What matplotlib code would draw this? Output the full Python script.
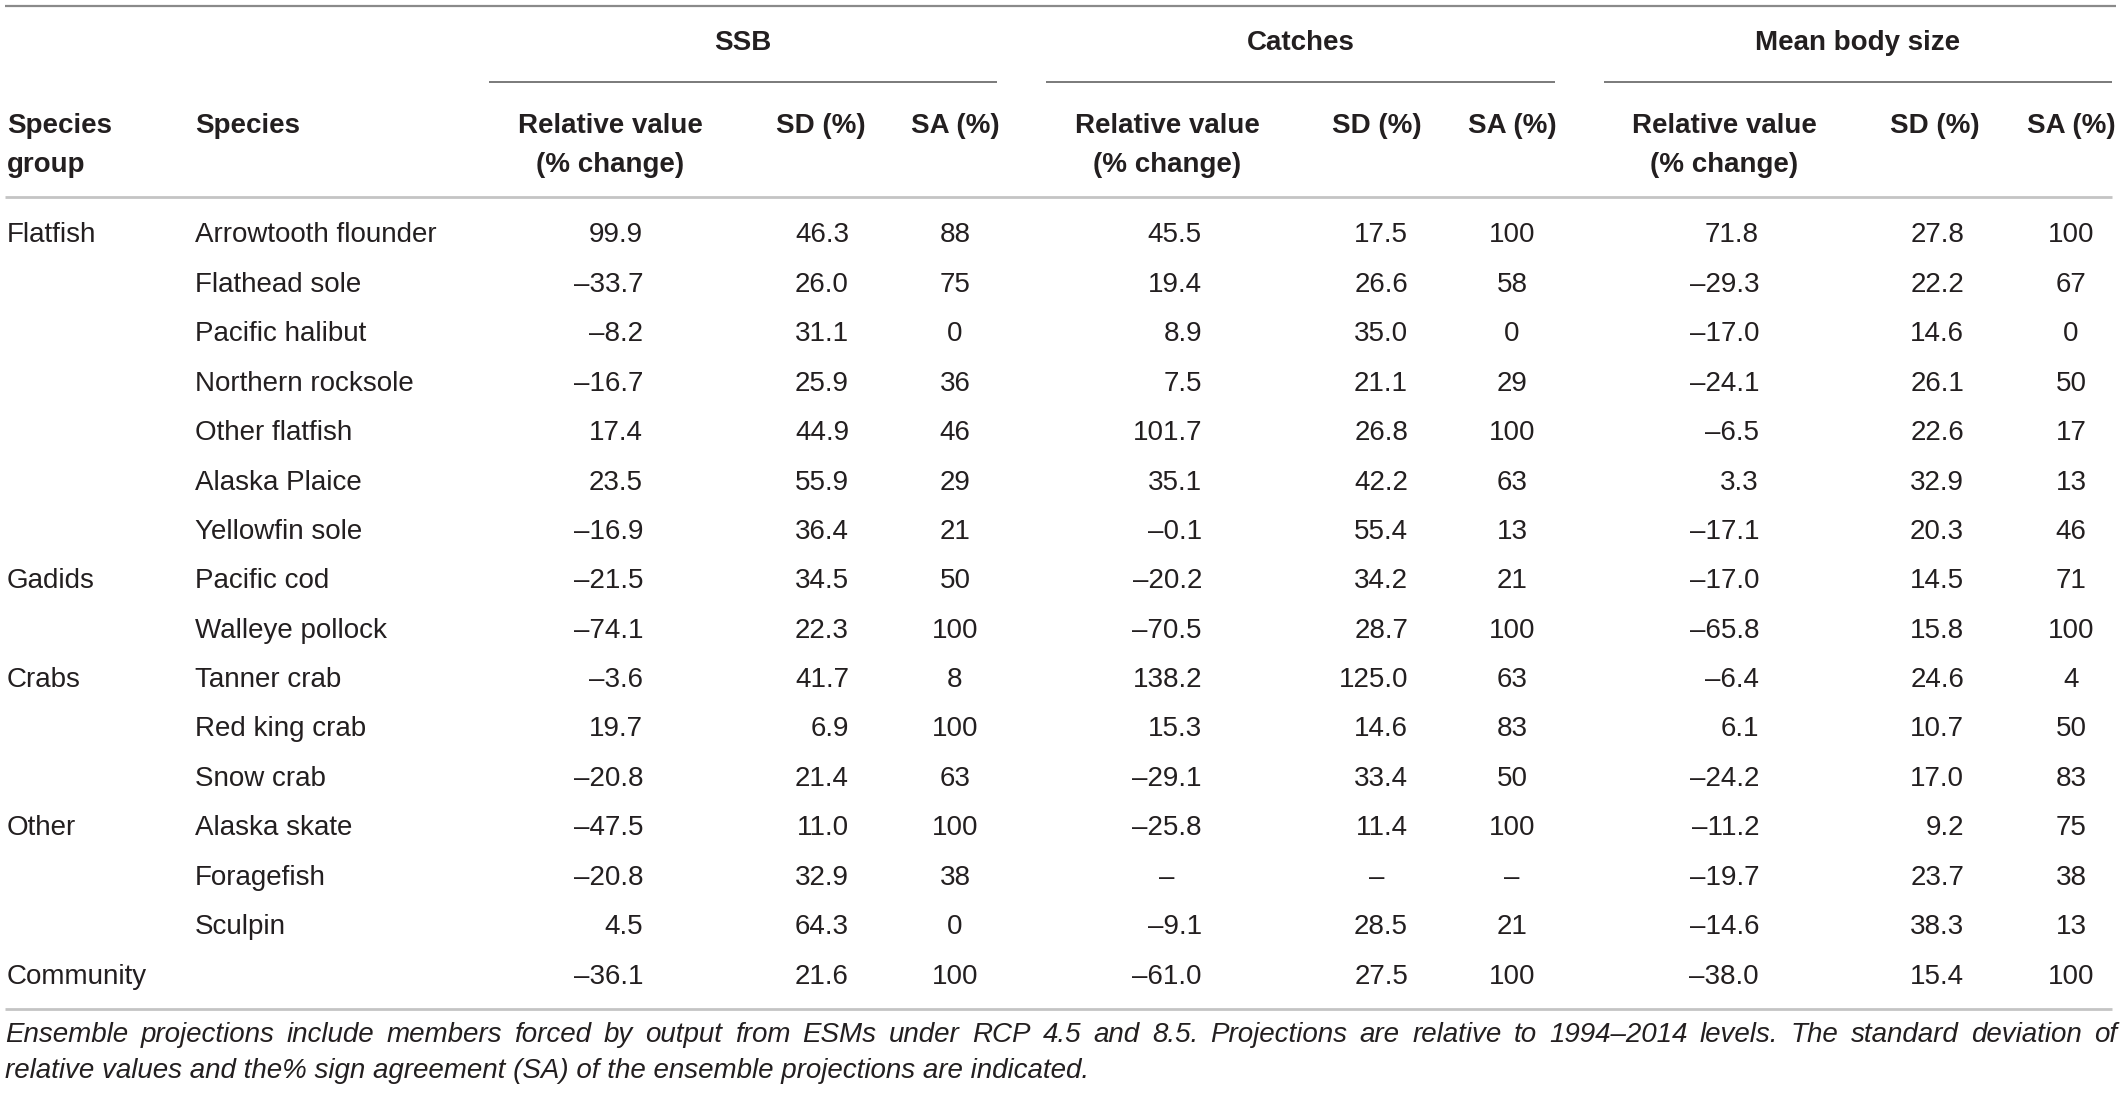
import matplotlib
matplotlib.use("Agg")
import matplotlib.pyplot as plt

# ---------------- data ----------------
groups = ["Flatfish", "", "", "", "", "", "", "Gadids", "", "Crabs", "", "", "Other", "", "", "Community"]
species = ["Arrowtooth flounder", "Flathead sole", "Pacific halibut", "Northern rocksole",
           "Other flatfish", "Alaska Plaice", "Yellowfin sole", "Pacific cod", "Walleye pollock",
           "Tanner crab", "Red king crab", "Snow crab", "Alaska skate", "Foragefish", "Sculpin", ""]

ssb_rel = ["99.9", "–33.7", "–8.2", "–16.7", "17.4", "23.5", "–16.9", "–21.5", "–74.1",
           "–3.6", "19.7", "–20.8", "–47.5", "–20.8", "4.5", "–36.1"]
ssb_sd = ["46.3", "26.0", "31.1", "25.9", "44.9", "55.9", "36.4", "34.5", "22.3",
          "41.7", "6.9", "21.4", "11.0", "32.9", "64.3", "21.6"]
ssb_sa = ["88", "75", "0", "36", "46", "29", "21", "50", "100", "8", "100", "63", "100", "38", "0", "100"]

catch_rel = ["45.5", "19.4", "8.9", "7.5", "101.7", "35.1", "–0.1", "–20.2", "–70.5",
             "138.2", "15.3", "–29.1", "–25.8", "–", "–9.1", "–61.0"]
catch_sd = ["17.5", "26.6", "35.0", "21.1", "26.8", "42.2", "55.4", "34.2", "28.7",
            "125.0", "14.6", "33.4", "11.4", "–", "28.5", "27.5"]
catch_sa = ["100", "58", "0", "29", "100", "63", "13", "21", "100", "63", "83", "50", "100", "–", "21", "100"]

size_rel = ["71.8", "–29.3", "–17.0", "–24.1", "–6.5", "3.3", "–17.1", "–17.0", "–65.8",
            "–6.4", "6.1", "–24.2", "–11.2", "–19.7", "–14.6", "–38.0"]
size_sd = ["27.8", "22.2", "14.6", "26.1", "22.6", "32.9", "20.3", "14.5", "15.8",
           "24.6", "10.7", "17.0", "9.2", "23.7", "38.3", "15.4"]
size_sa = ["100", "67", "0", "50", "17", "13", "46", "71", "100", "4", "50", "83", "75", "38", "13", "100"]

group_headers = ["SSB", "Catches", "Mean body size"]
col_headers = ["Relative value\n(% change)", "SD (%)", "SA (%)"]
caption_lines = [
    "Ensemble projections include members forced by output from ESMs under RCP 4.5 and 8.5. "
    "Projections are relative to 1994–2014 levels. The standard deviation of",
    "relative values and the% sign agreement (SA) of the ensemble projections are indicated.",
]

# ---------------- layout ----------------
W, H = 2121, 1096
DPI = 100
fig = plt.figure(figsize=(W / DPI, H / DPI), dpi=DPI)
ax = fig.add_axes([0, 0, 1, 1])
ax.set_xlim(0, W)
ax.set_ylim(H, 0)
ax.axis("off")

FONT = "Liberation Sans"
TXT = "#231f20"
FS = 20.0          # body size (pt)
FS_CAP = 20.0      # caption size

row_y0 = 233.0
row_dy = 49.4
cap_off = 9.5      # baseline offset from row center

x_group = 7
x_species = 195
# (header center, value anchor, value alignment) per block
blocks = [
    [(610, 643, "right"), (821, 849, "right"), (955, 955, "center")],
    [(1167, 1202, "right"), (1377, 1408, "right"), (1512, 1512, "center")],
    [(1724, 1759, "right"), (1935, 1964, "right"), (2071, 2071, "center")],
]
block_spans = [(489, 997), (1046, 1555), (1604, 2112)]
block_data = [(ssb_rel, ssb_sd, ssb_sa), (catch_rel, catch_sd, catch_sa), (size_rel, size_sd, size_sa)]

# rules
ax.plot([5, 2116], [6, 6], color="#8a8a8a", lw=1.6, solid_capstyle="butt")
ax.plot([5, 2112], [197, 197], color="#c4c4c4", lw=2.0, solid_capstyle="butt")
ax.plot([5, 2112], [1009, 1009], color="#c4c4c4", lw=2.0, solid_capstyle="butt")
for (a, b) in block_spans:
    ax.plot([a, b], [82, 82], color="#707070", lw=1.3, solid_capstyle="butt")

# group headers
for (a, b), name in zip(block_spans, group_headers):
    ax.text((a + b) / 2, 50, name, ha="center", va="baseline", fontsize=FS,
            fontweight="bold", family=FONT, color=TXT)

# column headers
hb1, hb2 = 133, 172
ax.text(x_group, hb1, "Species", ha="left", va="baseline", fontsize=FS, fontweight="bold", family=FONT, color=TXT)
ax.text(x_group, hb2, "group", ha="left", va="baseline", fontsize=FS, fontweight="bold", family=FONT, color=TXT)
ax.text(x_species, hb1, "Species", ha="left", va="baseline", fontsize=FS, fontweight="bold", family=FONT, color=TXT)
for blk in blocks:
    for (hc, _, _), h in zip(blk, col_headers):
        lines = h.split("\n")
        for k, ln in enumerate(lines):
            ax.text(hc, hb1 if k == 0 else hb2, ln, ha="center", va="baseline", fontsize=FS,
                    fontweight="bold", family=FONT, color=TXT)

# body rows
for i in range(len(species)):
    yb = row_y0 + i * row_dy + cap_off
    if groups[i]:
        ax.text(x_group, yb, groups[i], ha="left", va="baseline", fontsize=FS, family=FONT, color=TXT)
    if species[i]:
        ax.text(x_species, yb, species[i], ha="left", va="baseline", fontsize=FS, family=FONT, color=TXT)
    for blk, data in zip(blocks, block_data):
        for (hc, xa, al), col in zip(blk, data):
            v = col[i]
            if v == "–":
                ax.text(hc, yb, v, ha="center", va="baseline", fontsize=FS, family=FONT, color=TXT)
            else:
                ax.text(xa, yb, v, ha=al, va="baseline", fontsize=FS, family=FONT, color=TXT)

# caption (first line justified)
cap_base = [1042, 1078]
x_left, x_right = 5, 2117
fig.canvas.draw()
renderer = fig.canvas.get_renderer()

def word_width(w, fs):
    t = ax.text(0, 0, w, fontsize=fs, style="italic", family=FONT)
    bb = t.get_window_extent(renderer=renderer)
    t.remove()
    return bb.width  # pixels == data units (1:1 mapping)

words = caption_lines[0].split(" ")
space_w = word_width("a a", FS_CAP) - 2 * word_width("a", FS_CAP)
cap_fs = FS_CAP
widths = [word_width(w, cap_fs) for w in words]
# shrink slightly if the line would not fit with a minimal gap
while sum(widths) + 0.6 * space_w * (len(words) - 1) > (x_right - x_left):
    cap_fs -= 0.25
    widths = [word_width(w, cap_fs) for w in words]
gap = (x_right - x_left - sum(widths)) / (len(words) - 1)
x = x_left
for w, wd in zip(words, widths):
    ax.text(x, cap_base[0], w, ha="left", va="baseline", fontsize=cap_fs, style="italic",
            family=FONT, color=TXT)
    x += wd + gap
ax.text(x_left, cap_base[1], caption_lines[1], ha="left", va="baseline", fontsize=cap_fs,
        style="italic", family=FONT, color=TXT)

fig.savefig("out.png", dpi=DPI, facecolor="white")
